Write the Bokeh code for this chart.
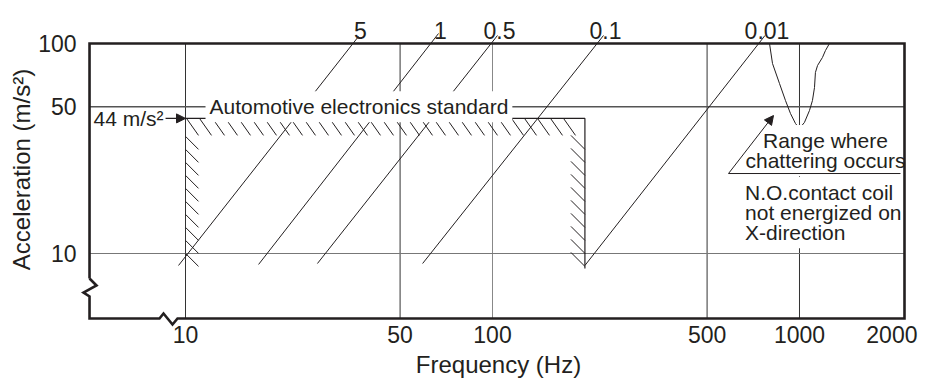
import math
from bokeh.plotting import figure
from bokeh.models import (Range1d, FixedTicker, PrintfTickFormatter, Label,
                          Arrow, NormalHead)
from bokeh.core.properties import value
from bokeh.embed import file_html
from bokeh.resources import INLINE

# ---------------- data ----------------
x_ticks = [10, 50, 100, 500, 1000, 2000]          # Frequency (Hz)
y_ticks = [10, 50, 100]                           # Acceleration (m/s2)
x_grid = [10, 50, 100, 500, 1000]
y_grid = [10, 50]

# plotted box of the diagram (broken axes start a little below 10)
box_f = [4.868, 2198]
box_a = [4.904, 100]

# automotive electronics standard (44 m/s2, 10-200 Hz)
std_f = [10, 200]
std_a = 44
std_low_a = 8.48
auto_std_a = 50

# constant double-amplitude lines (mm)
disp_labels = ["5", "1", "0.5", "0.1", "0.01"]
disp_f_lo = [9.49, 17.3, 26.9, 59.2, 200]
disp_a_lo = [8.77, 8.87, 8.96, 8.96, 8.77]
disp_f_hi = [36.6, 66.7, 103.8, 229.9, 772]
disp_a_hi = [108.0, 111.6, 109.2, 109.2, 109.2]

# range where chattering occurs
chatter_f = [798.6, 816.8, 860.7, 900.3, 934.7, 970.4, 1000, 1038, 1078,
             1102, 1119, 1127, 1145, 1188, 1215, 1252]
chatter_a = [100, 80.3, 64.5, 53.5, 46.4, 41.6, 39.4, 42.1, 48.0,
             53.5, 61.7, 72.8, 78.6, 85.8, 92.6, 100]

# ---------------- layout / styling ----------------
INK = "#231f20"
FONT = "Liberation Sans"
W, H = 925, 380
BL, BR, BT, BB = 84, 13, 12, 54
X0, X1 = 4.688, 2334
Y0, Y1 = 4.492, 140.5

p = figure(width=W, height=H, x_axis_type="log", y_axis_type="log",
           x_range=Range1d(X0, X1), y_range=Range1d(Y0, Y1),
           output_backend="svg", toolbar_location=None,
           min_border_left=BL, min_border_right=BR, min_border_top=BT,
           min_border_bottom=BB)
p.outline_line_color = None
p.xgrid.visible = False
p.ygrid.visible = False
p.background_fill_color = "white"
p.border_fill_color = "white"

for ax, ticks in ((p.xaxis, x_ticks), (p.yaxis, y_ticks)):
    ax.ticker = FixedTicker(ticks=ticks, minor_ticks=[])
    ax.formatter = PrintfTickFormatter(format="%d")
    ax.axis_line_color = None
    ax.major_tick_line_color = None
    ax.minor_tick_line_color = None
    ax.major_label_text_font = FONT
    ax.major_label_text_font_size = "23px"
    ax.major_label_text_color = INK
    ax.axis_label_text_font = FONT
    ax.axis_label_text_font_size = "24px"
    ax.axis_label_text_font_style = "normal"
    ax.axis_label_text_color = INK

p.xaxis.axis_label = "Frequency (Hz)"
p.yaxis.axis_label = "Acceleration (m/s²)"
p.xaxis.major_label_standoff = -7
p.xaxis.axis_label_standoff = 5
p.yaxis.major_label_standoff = 2
p.yaxis.axis_label_standoff = 0

# pixel helpers for fixed-size decorations (hatch strokes)
kx = (W - BL - BR) / math.log10(X1 / X0)
ky = (H - BT - BB) / math.log10(Y1 / Y0)


def fs(f, dpx):
    return f * 10 ** (dpx / kx)


def ad(a, dpx):
    return a / 10 ** (dpx / ky)


# grid lines inside the box
p.segment(x0=x_grid, y0=[box_a[0]] * len(x_grid), x1=x_grid,
          y1=[box_a[1]] * len(x_grid),
          line_color=["#333333", "#333333", "#888888", "#333333", "#333333"],
          line_width=1)
p.segment(x0=[box_f[0]] * len(y_grid), y0=y_grid,
          x1=[box_f[1]] * len(y_grid), y1=y_grid,
          line_color=["#777777", "#555555"], line_width=[1, 1.6])

# hatch strokes along the inside of the standard outline
sx0, sy0, sx1, sy1 = [], [], [], []
d = 1
while fs(std_f[0], d + 12) <= std_f[1]:
    sx0.append(fs(std_f[0], d)); sy0.append(std_a)
    sx1.append(fs(std_f[0], d + 12)); sy1.append(ad(std_a, 17))
    d += 13
d = 18
while ad(std_a, d + 13) >= std_low_a * 0.99:
    a0 = ad(std_a, d)
    sx0.append(std_f[0]); sy0.append(a0)
    sx1.append(fs(std_f[0], 13)); sy1.append(ad(a0, 13))
    d += 13
d = 31
while ad(std_a, d) >= std_low_a * 0.99:
    a1 = ad(std_a, d)
    sx0.append(fs(std_f[1], -14)); sy0.append(ad(a1, -14))
    sx1.append(std_f[1]); sy1.append(a1)
    d += 13
p.segment(x0=sx0, y0=sy0, x1=sx1, y1=sy1, line_color=INK, line_width=1)
p.line([std_f[0], std_f[1], std_f[1]], [std_a, std_a, std_low_a],
       line_color=INK, line_width=1.2)

# constant displacement lines and labels
p.segment(x0=disp_f_lo, y0=disp_a_lo, x1=disp_f_hi, y1=disp_a_hi,
          line_color=INK, line_width=1)
p.text(x=disp_f_hi, y=[115.3] * len(disp_f_hi), text=disp_labels,
       text_align="center", text_baseline="alphabetic", x_offset=2,
       text_font=value(FONT), text_font_size="23px", text_color=INK)

# chattering curve
p.line(chatter_f, chatter_a, line_color=INK, line_width=1)

# box with broken-axis marks (drawn above the text backgrounds)
bxs = [box_f[0], box_f[0], box_f[1], box_f[1], 9.418, 9.072, 8.479, 8.227,
       box_f[0], box_f[0], 4.653, 5.130, box_f[0]]
bys = [7.603, box_a[1], box_a[1], box_a[0], box_a[0], 4.592, 5.179,
       box_a[0], box_a[0], 6.241, 6.521, 7.041, 7.603]
p.line(bxs, bys, line_color=INK, line_width=2.6, line_join="miter",
       level="overlay")


# texts
def lab(text, x, y, align="left", base="middle", bg=True, size="21px"):
    kw = dict(x=x, y=y, text=text, text_align=align, text_baseline=base,
              text_font=FONT, text_font_size=size, text_color=INK,
              text_line_height=0.88)
    if bg:
        kw.update(background_fill_color="white", background_fill_alpha=1.0,
                  padding=4)
    p.add_layout(Label(**kw))


lab("Automotive electronics standard", 11.62, auto_std_a)
lab("44 m/s²", 8.479, std_a, align="right", bg=False)
p.add_layout(Arrow(end=NormalHead(size=9, fill_color=INK, line_color=INK),
                   x_start=8.61, y_start=std_a, x_end=std_f[0], y_end=std_a,
                   line_color=INK, line_width=1.2))

lab("Range where\nchattering occurs", 1215, 30.94, align="center")
lab("N.O.contact coil\nnot energized on\nX-direction", 645, 15.67)
p.add_layout(Arrow(end=None, x_start=587.2, y_start=24.04, x_end=2133,
                   y_end=24.04, line_color=INK, line_width=1))
p.add_layout(Arrow(end=NormalHead(size=9, fill_color=INK, line_color=INK),
                   x_start=587.2, y_start=24.04, x_end=822.9, y_end=45.4,
                   line_color=INK, line_width=1))

open("out.html", "w").write(file_html(p, INLINE))
